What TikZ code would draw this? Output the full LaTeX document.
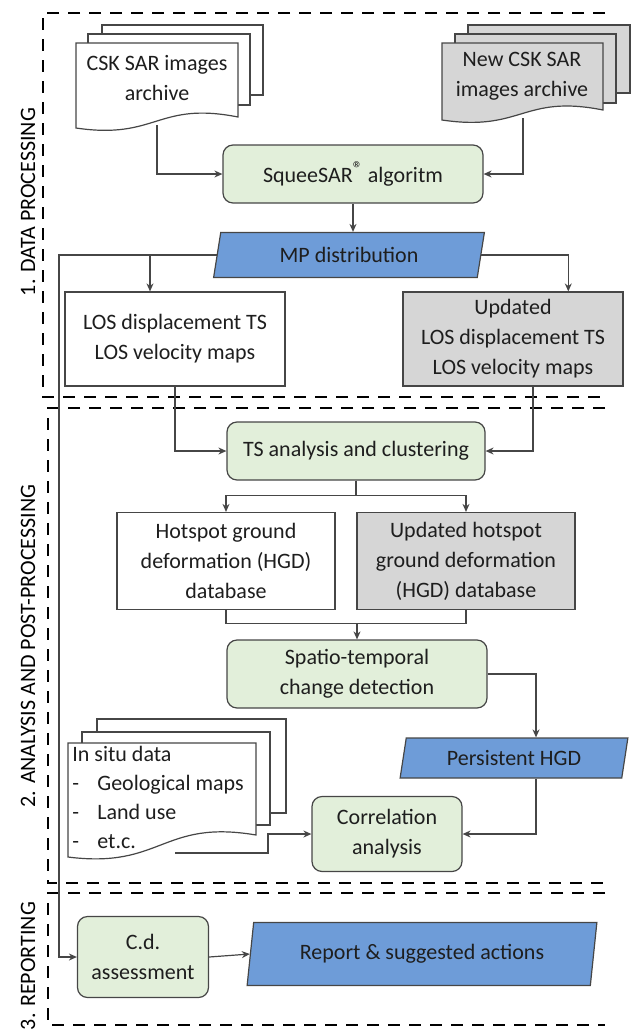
\documentclass[tikz,border=0pt]{standalone}
\usepackage{fontspec}
\setmainfont{Carlito}
\usetikzlibrary{arrows.meta,shapes.geometric,calc}

\definecolor{boxgreen}{RGB}{226,239,218}
\definecolor{boxblue}{RGB}{110,156,216}
\definecolor{boxgrey}{RGB}{214,214,214}
\definecolor{edgegrey}{RGB}{70,70,70}
\definecolor{textgrey}{RGB}{30,30,30}

% back sheet of a document stack: fill, left, top, right, bottom
\newcommand{\backsheet}[5]{\filldraw[sheet,fill=#1] (#2,#3) rectangle (#4,#5);}
% front sheet with wavy bottom: fill, left, top, right, bottom left, bottom right
\newcommand{\frontsheet}[6]{\filldraw[sheet,fill=#1] (#2,#5) -- (#2,#3) -- (#4,#3) -- (#4,#6)
  .. controls ({(#2+#4)/2},{#6-16}) and ({(#2+#4)/2},{#5+12}) .. (#2,#5) -- cycle;}

\begin{document}
\begin{tikzpicture}[
    x=0.5pt, y=-0.5pt,
    font=\fontsize{11}{15}\selectfont, text=textgrey,
    every node/.style={align=center, inner sep=0pt},
    process/.style={draw=edgegrey, fill=boxgreen, rounded corners=5pt, line width=0.6pt},
    datum/.style={draw=edgegrey, line width=0.6pt},
    io/.style={trapezium, trapezium left angle=76, trapezium right angle=104,
      trapezium stretches=true, draw=edgegrey, fill=boxblue, line width=0.6pt},
    sheet/.style={draw=edgegrey, line width=0.6pt},
    link/.style={draw=edgegrey, line width=0.6pt, -{Stealth[length=4pt,width=3.5pt]}},
    phase/.style={draw=black, line width=1.4pt, dash pattern=on 6pt off 4.5pt},
    phaselabel/.style={rotate=90, text=black},
  ]
  \useasboundingbox (0,0) rectangle (631,1034);

  % phases (open to the right)
  \draw[phase] (605,13) -- (43,13) -- (43,397) -- (605,397);
  \draw[phase] (605,408) -- (48,408) -- (48,883) -- (605,883);
  \draw[phase] (605,893) -- (48,893) -- (48,1025) -- (605,1025);
  \node[phaselabel] (lab1) at (28,202) {1. DATA PROCESSING};
  \node[phaselabel] (lab2) at (28,646) {2. ANALYSIS AND POST-PROCESSING};
  \node[phaselabel] (lab3) at (28,966) {3. REPORTING};

  % image archives
  \backsheet{white}{102}{25}{263}{95}
  \backsheet{white}{88}{34}{250}{105}
  \frontsheet{white}{76}{43}{238}{128}{117}
  \node (csk) at (157,78) {CSK SAR images\\archive};
  \coordinate (cskout) at (157,125);

  \backsheet{boxgrey}{468}{25}{630}{93}
  \backsheet{boxgrey}{455}{34}{616}{103}
  \frontsheet{boxgrey}{442}{43}{603}{120}{110}
  \node (newcsk) at (522,76) {New CSK SAR\\images archive};
  \coordinate (newout) at (523,118);

  % in situ data
  \backsheet{white}{97}{719}{286}{813}
  \backsheet{white}{82}{732}{270}{825}
  \frontsheet{white}{68}{743}{256}{857}{835}
  \node[anchor=north west, align=left, font=\fontsize{11}{14.5}\selectfont] (insitu) at (72,746)
    {In situ data\\\makebox[12.5pt][l]{-}Geological maps\\\makebox[12.5pt][l]{-}Land use\\\makebox[12.5pt][l]{-}et.c.};
  \coordinate (insituout) at (175,853);

  % processing chain
  \node[process, minimum width=130pt, minimum height=29pt] (sqz) at (353,174)
    {SqueeSAR\raisebox{3.5pt}{\fontsize{10}{10}\selectfont\textregistered} algoritm};
  \node[io, minimum width=136pt, minimum height=22.5pt] (mp) at (349,255) {MP distribution};
  \node[datum, fill=white, minimum width=110pt, minimum height=47pt] (los) at (175,339) {LOS displacement TS\\LOS velocity maps};
  \node[datum, fill=boxgrey, minimum width=110pt, minimum height=47pt] (ulos) at (513,339) {Updated\\LOS displacement TS\\LOS velocity maps};
  \node[process, minimum width=129pt, minimum height=29pt] (tsa) at (356,451) {TS analysis and clustering};
  \node[datum, fill=white, minimum width=109pt, minimum height=48.5pt] (hgd) at (226,561) {Hotspot ground\\deformation (HGD)\\database};
  \node[datum, fill=boxgrey, minimum width=109pt, minimum height=48.5pt] (uhgd) at (466,561) {Updated hotspot\\ground deformation\\(HGD) database};
  \node[process, minimum width=130pt, minimum height=34pt] (stcd) at (357,674) {Spatio-temporal\\change detection};
  \node[io, minimum width=114pt, minimum height=20pt] (phgd) at (514,758) {Persistent HGD};
  \node[process, minimum width=75pt, minimum height=37.5pt] (corr) at (387,834) {Correlation\\analysis};
  \node[process, minimum width=65.5pt, minimum height=40.5pt] (cda) at (143,957) {C.d.\\assessment};
  \node[io, minimum width=175pt, minimum height=31.5pt] (rep) at (422,954) {Report \& suggested actions};

  % connectors
  \draw[link] (cskout) |- (sqz.west);
  \draw[link] (newout) |- (sqz.east);
  \draw[link] (sqz.south) -- (sqz.south |- mp.north);
  \draw[link] (mp.east) -| ($(ulos.north)!0.5!(ulos.north east)$);
  \draw[link] (mp.west) -| ([xshift=-12.5pt]los.north);
  \draw[link] (mp.west) -| ([xshift=-9pt]cda.west) -- (cda.west);
  \draw[link] (los.south) |- (tsa.west);
  \draw[link] ([xshift=10pt]ulos.south) |- (tsa.east);
  \draw[link] (tsa.south) -- ++(0,15) -| (hgd.north);
  \draw[link] (tsa.south) -- ++(0,15) -| (uhgd.north);
  \draw[draw=edgegrey, line width=0.6pt] (hgd.south) -- ++(0,13) -| (uhgd.south);
  \draw[link] ([yshift=-6.5pt]hgd.south -| stcd.north) -- (stcd.north);
  \draw[link] (stcd.east) -| ([xshift=11pt]phgd.north);
  \draw[link] ([xshift=11pt]phgd.south) |- (corr.east);
  \draw[link] (insituout) -- ++(93,0) |- (corr.west);
  \draw[link] (cda.east) -- (rep.west);
\end{tikzpicture}
\end{document}
